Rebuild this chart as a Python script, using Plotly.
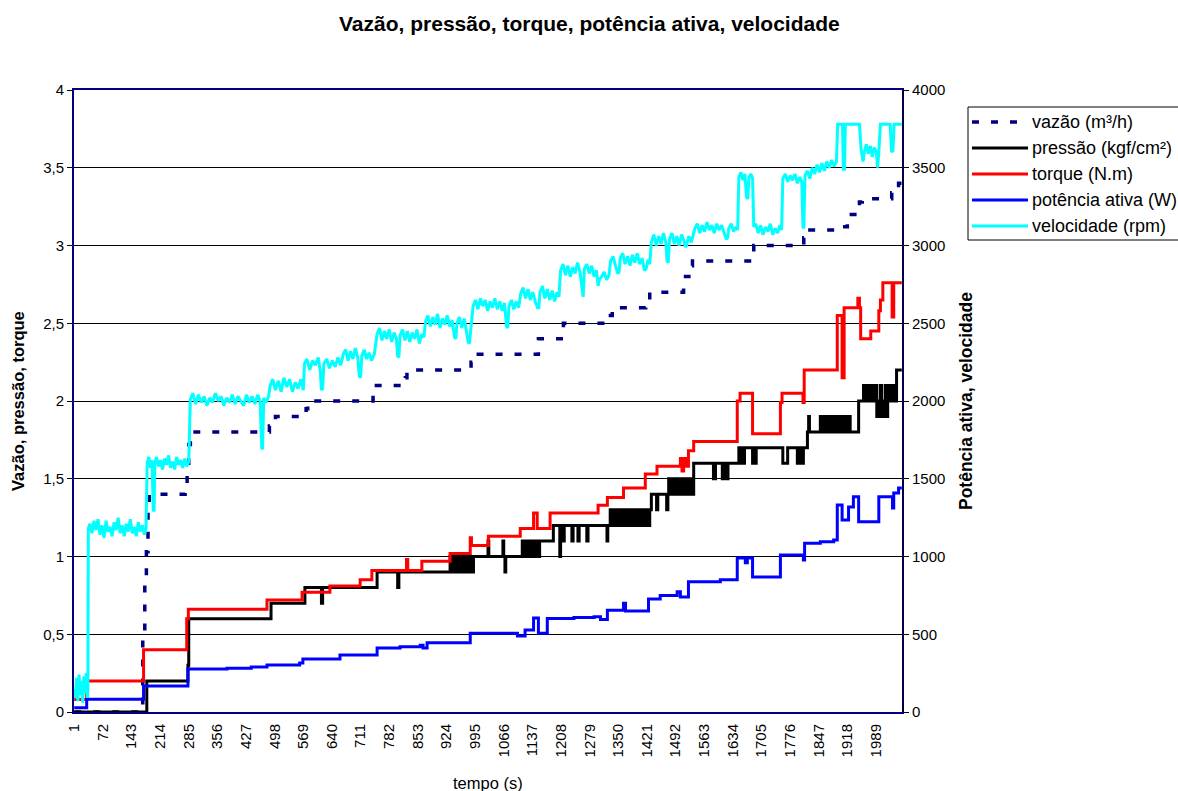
import plotly.graph_objects as go

FONT = "Arial, Liberation Sans, sans-serif"

# x-axis category labels (sample index, every 71 samples)
tick_labels = ["1", "72", "143", "214", "285", "356", "427", "498", "569", "640",
               "711", "782", "853", "924", "995", "1066", "1137", "1208", "1279",
               "1350", "1421", "1492", "1563", "1634", "1705", "1776", "1847",
               "1918", "1989"]
n_samples = 2053

# vazão (m³/h) - step changes (sample, value)
vazao_pts = [(1, 0.0), (166, 0.0), (171, 0.5), (176, 0.85), (180, 1.03), (184, 1.3),
             (187, 1.4), (276, 1.45), (281, 1.6), (285, 1.72), (289, 1.8),
             (485, 1.84), (492, 1.87), (500, 1.9), (576, 1.95), (580, 2.0),
             (742, 2.1), (822, 2.15), (826, 2.2), (985, 2.25), (990, 2.3),
             (1152, 2.4), (1214, 2.5), (1325, 2.55), (1335, 2.6), (1418, 2.63),
             (1428, 2.7), (1512, 2.8), (1525, 2.87), (1534, 2.9), (1686, 3.0),
             (1810, 3.05), (1814, 3.1), (1905, 3.12), (1918, 3.2), (1948, 3.28),
             (1955, 3.3), (2028, 3.34), (2045, 3.4), (2053, 3.4)]

# pressão (kgf/cm²) - step changes (sample, value)
pressao_pts = [(1, 0.0), (181, 0.2), (283, 0.3), (285, 0.6), (489, 0.7), (573, 0.8),
               (614, 0.7), (617, 0.8), (752, 0.9), (803, 0.8), (806, 0.9),
               (933, 1.0), (940, 0.9), (942, 1.0), (946, 0.9), (949, 1.0), (952, 0.9),
               (955, 1.0), (958, 0.9), (961, 1.0), (964, 0.9), (967, 1.0), (970, 0.9),
               (973, 1.0), (976, 0.9), (979, 1.0), (982, 0.9), (985, 1.0), (988, 0.9),
               (991, 1.0), (1027, 1.1), (1029, 1.0), (1064, 1.1), (1066, 1.0),
               (1069, 0.9), (1071, 1.0), (1112, 1.1), (1116, 1.0), (1119, 1.1),
               (1123, 1.0), (1126, 1.1), (1130, 1.0), (1133, 1.1), (1137, 1.0),
               (1140, 1.1), (1145, 1.0), (1148, 1.1), (1152, 1.0), (1155, 1.1),
               (1189, 1.2), (1205, 1.0), (1207, 1.2), (1213, 1.1), (1216, 1.2),
               (1235, 1.1), (1238, 1.2), (1250, 1.1), (1253, 1.2), (1272, 1.1),
               (1275, 1.2), (1322, 1.1), (1324, 1.2), (1330, 1.3), (1334, 1.2),
               (1337, 1.3), (1341, 1.2), (1344, 1.3), (1348, 1.2), (1351, 1.3),
               (1355, 1.2), (1358, 1.3), (1362, 1.2), (1365, 1.3), (1369, 1.2),
               (1372, 1.3), (1376, 1.2), (1379, 1.3), (1383, 1.2), (1386, 1.3),
               (1390, 1.2), (1393, 1.3), (1397, 1.2), (1400, 1.3), (1404, 1.2),
               (1407, 1.3), (1411, 1.2), (1414, 1.3), (1418, 1.2), (1421, 1.3),
               (1425, 1.2), (1428, 1.3), (1432, 1.4), (1445, 1.3), (1448, 1.4),
               (1470, 1.3), (1473, 1.4), (1475, 1.5), (1479, 1.4), (1482, 1.5),
               (1486, 1.4), (1489, 1.5), (1493, 1.4), (1496, 1.5), (1500, 1.4),
               (1503, 1.5), (1507, 1.4), (1510, 1.5), (1514, 1.4), (1517, 1.5),
               (1521, 1.4), (1524, 1.5), (1528, 1.4), (1531, 1.5), (1535, 1.4),
               (1537, 1.6), (1586, 1.5), (1591, 1.6), (1608, 1.5), (1612, 1.6),
               (1616, 1.5), (1622, 1.6), (1649, 1.7), (1653, 1.6), (1656, 1.7),
               (1660, 1.6), (1663, 1.7), (1683, 1.6), (1686, 1.7), (1689, 1.6),
               (1692, 1.7), (1758, 1.6), (1770, 1.7), (1794, 1.6), (1797, 1.7),
               (1800, 1.6), (1803, 1.7), (1806, 1.6), (1809, 1.7), (1819, 1.8),
               (1822, 1.9), (1824, 1.8), (1851, 1.9), (1855, 1.8), (1858, 1.9),
               (1862, 1.8), (1865, 1.9), (1869, 1.8), (1872, 1.9), (1876, 1.8),
               (1879, 1.9), (1883, 1.8), (1886, 1.9), (1890, 1.8), (1893, 1.9),
               (1897, 1.8), (1900, 1.9), (1904, 1.8), (1907, 1.9), (1911, 1.8),
               (1914, 1.9), (1918, 1.8), (1921, 1.9), (1925, 1.8), (1946, 2.0),
               (1958, 2.1), (1961, 2.0), (1964, 2.1), (1967, 2.0), (1970, 2.1),
               (1973, 2.0), (1976, 2.1), (1979, 2.0), (1982, 2.1), (1985, 2.0),
               (1988, 2.1), (1991, 1.9), (1994, 2.0), (1997, 1.9), (2000, 2.1),
               (2003, 1.9), (2006, 2.0), (2009, 1.9), (2012, 2.1), (2015, 1.9),
               (2018, 2.0), (2021, 2.1), (2024, 2.0), (2027, 2.1), (2030, 2.0),
               (2033, 2.1), (2036, 2.0), (2040, 2.2), (2053, 2.2)]

# torque (N.m) - step changes (sample, value)
torque_pts = [(1, 0.08), (32, 0.2), (173, 0.4), (280, 0.6), (284, 0.66), (479, 0.72),
              (566, 0.77), (635, 0.81), (710, 0.85), (739, 0.91), (825, 0.98),
              (828, 0.91), (863, 0.97), (933, 1.02), (983, 1.12), (986, 1.07),
              (1028, 1.13), (1107, 1.18), (1140, 1.28), (1149, 1.18), (1181, 1.28),
              (1300, 1.33), (1323, 1.38), (1363, 1.44), (1417, 1.53), (1446, 1.58),
              (1504, 1.63), (1508, 1.55), (1512, 1.63), (1517, 1.58), (1524, 1.68),
              (1537, 1.74), (1645, 2.0), (1652, 2.05), (1683, 1.79), (1752, 1.99),
              (1756, 2.05), (1808, 1.99), (1811, 2.2), (1893, 2.55), (1905, 2.15),
              (1910, 2.6), (1944, 2.66), (1948, 2.6), (1951, 2.4), (1976, 2.45),
              (1996, 2.58), (2000, 2.65), (2006, 2.76), (2029, 2.54), (2033, 2.76),
              (2053, 2.76)]

# potência ativa (W) - step changes (sample, value)
potencia_pts = [(1, 28), (32, 82), (173, 167), (283, 276), (380, 282), (440, 289),
                (479, 302), (560, 315), (568, 341), (660, 367), (752, 411), (809, 420),
                (859, 430), (866, 411), (876, 446), (983, 506), (1100, 489),
                (1119, 527), (1140, 604), (1152, 507), (1174, 602), (1240, 608),
                (1290, 613), (1306, 595), (1323, 655), (1363, 700), (1368, 650),
                (1425, 727), (1454, 750), (1496, 773), (1504, 740), (1524, 838),
                (1603, 850), (1645, 990), (1665, 960), (1670, 990), (1683, 868),
                (1752, 1010), (1809, 977), (1812, 1085), (1851, 1095), (1884, 1106),
                (1893, 1331), (1905, 1235), (1921, 1318), (1933, 1385), (1946, 1224),
                (1996, 1385), (2030, 1312), (2033, 1408), (2045, 1440), (2053, 1440)]

# velocidade (rpm) - sampled readings (sample, value)
velocidade_pts = [
    (1, 150), (4, 90), (7, 220), (10, 70), (13, 240), (16, 110), (19, 200), (22, 60),
    (25, 230), (28, 120), (31, 250), (34, 90), (35, 170),
    (36, 1180), (40, 1210), (45, 1150), (50, 1230), (55, 1170), (60, 1240), (65, 1140),
    (70, 1200), (75, 1120), (80, 1230), (85, 1160), (90, 1190), (95, 1130), (100, 1220),
    (105, 1170), (110, 1250), (115, 1150), (120, 1200), (125, 1130), (130, 1210),
    (135, 1160), (140, 1240), (145, 1150), (150, 1190), (155, 1130), (160, 1220),
    (165, 1160), (170, 1200), (175, 1140), (179, 1180),
    (182, 1600), (186, 1640), (190, 1570), (194, 1620), (197, 1300), (199, 1290),
    (201, 1600), (205, 1640), (210, 1580), (215, 1620), (220, 1560), (225, 1630),
    (230, 1590), (235, 1650), (240, 1570), (245, 1610), (250, 1560), (255, 1640),
    (260, 1590), (265, 1620), (270, 1570), (275, 1630), (280, 1580), (285, 1610),
    (289, 2010), (295, 2050), (302, 1980), (309, 2040), (316, 1990), (323, 2030),
    (330, 1970), (337, 2020), (344, 1990), (351, 2050), (358, 2000), (365, 2030),
    (372, 1970), (379, 2020), (386, 1990), (393, 2040), (400, 1980), (407, 2030),
    (414, 2000), (421, 1970), (428, 2040), (435, 1990), (442, 2030), (449, 1980),
    (456, 2040), (462, 2000), (466, 1700), (468, 1690), (471, 2020), (477, 1990),
    (483, 2030),
    (487, 2100), (493, 2140), (500, 2070), (507, 2130), (514, 2060), (521, 2150),
    (528, 2090), (535, 2140), (542, 2060), (549, 2120), (556, 2080), (563, 2140),
    (569, 2070),
    (572, 2240), (578, 2270), (585, 2200), (592, 2260), (599, 2230), (606, 2280),
    (611, 2200), (614, 2070), (617, 2080), (620, 2240), (627, 2270), (634, 2210),
    (641, 2260), (648, 2220), (655, 2280), (662, 2230),
    (668, 2300), (674, 2330), (680, 2260), (686, 2320), (692, 2270), (698, 2340),
    (704, 2280), (708, 2160), (711, 2150), (714, 2290), (720, 2330), (726, 2270),
    (732, 2310), (738, 2260), (745, 2300),
    (752, 2430), (758, 2470), (764, 2390), (770, 2450), (776, 2400), (782, 2460),
    (788, 2380), (794, 2440), (800, 2400), (803, 2290), (806, 2280), (809, 2420),
    (815, 2460), (821, 2390), (827, 2450), (833, 2380), (839, 2440), (845, 2400),
    (851, 2460), (857, 2370), (863, 2430), (868, 2410),
    (872, 2510), (878, 2550), (884, 2480), (890, 2540), (896, 2490), (902, 2560),
    (908, 2470), (914, 2530), (920, 2490), (926, 2550), (932, 2480), (938, 2520),
    (944, 2410), (947, 2400), (950, 2500), (956, 2540), (962, 2470), (968, 2530),
    (974, 2450), (978, 2380), (981, 2370), (985, 2480),
    (990, 2610), (996, 2650), (1002, 2590), (1008, 2660), (1014, 2610), (1020, 2650),
    (1026, 2580), (1032, 2640), (1038, 2600), (1044, 2660), (1050, 2590), (1056, 2640),
    (1062, 2580), (1068, 2630), (1073, 2480), (1076, 2470), (1079, 2610), (1085, 2650),
    (1091, 2590), (1097, 2640), (1103, 2600),
    (1108, 2690), (1114, 2730), (1120, 2660), (1126, 2720), (1132, 2650), (1138, 2700),
    (1144, 2640), (1150, 2600), (1153, 2600), (1156, 2700), (1162, 2740), (1168, 2660),
    (1174, 2720), (1180, 2650), (1186, 2710), (1192, 2640), (1198, 2700), (1203, 2670),
    (1207, 2840), (1213, 2880), (1219, 2810), (1225, 2870), (1231, 2800), (1237, 2860),
    (1243, 2820), (1249, 2890), (1255, 2830), (1260, 2700), (1263, 2670), (1266, 2850),
    (1272, 2880), (1278, 2820), (1284, 2870), (1290, 2800), (1296, 2840), (1300, 2740),
    (1303, 2780),
    (1309, 2800), (1315, 2830), (1321, 2780), (1327, 2810), (1331, 2900), (1337, 2930),
    (1343, 2870), (1349, 2820), (1352, 2830), (1355, 2920), (1361, 2950), (1367, 2880),
    (1373, 2930), (1379, 2870), (1385, 2940), (1391, 2890), (1397, 2950), (1403, 2880),
    (1409, 2920), (1415, 2840), (1419, 2850), (1424, 2910), (1428, 2880),
    (1432, 3020), (1438, 3070), (1444, 3000), (1450, 3060), (1456, 3010), (1462, 3080),
    (1468, 3020), (1471, 2900), (1474, 2890), (1477, 3040), (1483, 3080), (1489, 3010),
    (1495, 3060), (1501, 3000), (1507, 3070), (1513, 3030), (1516, 2990), (1519, 3000),
    (1525, 3060), (1531, 3020), (1535, 3070),
    (1540, 3110), (1546, 3140), (1552, 3080), (1558, 3130), (1564, 3090), (1570, 3150),
    (1576, 3100), (1582, 3130), (1588, 3080), (1594, 3140), (1600, 3100), (1606, 3130),
    (1612, 3090), (1618, 3040), (1621, 3050), (1624, 3110), (1630, 3140), (1636, 3090),
    (1642, 3120), (1646, 3100),
    (1649, 3440), (1654, 3470), (1659, 3420), (1664, 3460), (1668, 3310), (1671, 3300),
    (1674, 3440), (1679, 3460), (1683, 3430),
    (1686, 3120), (1691, 3140), (1697, 3080), (1703, 3130), (1709, 3070), (1715, 3120),
    (1721, 3090), (1727, 3140), (1733, 3070), (1739, 3110), (1745, 3080), (1751, 3130),
    (1755, 3100),
    (1758, 3430), (1764, 3460), (1770, 3410), (1776, 3450), (1782, 3420), (1788, 3460),
    (1794, 3400), (1800, 3440), (1805, 3410), (1808, 3120), (1810, 3110),
    (1813, 3450), (1819, 3480), (1825, 3430), (1831, 3500), (1837, 3460), (1843, 3520),
    (1849, 3470), (1855, 3530), (1861, 3480), (1867, 3540), (1873, 3500), (1879, 3550),
    (1885, 3510), (1891, 3540),
    (1894, 3780), (1900, 3780), (1906, 3780), (1908, 3490), (1911, 3490), (1913, 3780),
    (1919, 3780), (1925, 3780), (1932, 3780), (1940, 3780), (1948, 3780),
    (1952, 3620), (1957, 3540), (1960, 3600), (1965, 3650), (1970, 3590), (1975, 3640),
    (1980, 3570), (1985, 3630), (1990, 3600), (1993, 3500), (1996, 3600),
    (2000, 3780), (2008, 3780), (2016, 3780), (2024, 3780), (2028, 3600), (2031, 3610),
    (2034, 3780), (2042, 3780), (2050, 3780), (2053, 3780)]


def unzip(pts):
    return [p[0] for p in pts], [p[1] for p in pts]


series = [
    # name, points, colour, width, dash, shape, axis
    ("vazão (m³/h)", vazao_pts, "#000080", 3.5, "7px,12px", "hv", "y"),
    ("pressão (kgf/cm²)", pressao_pts, "#000000", 3, "solid", "hv", "y"),
    ("torque (N.m)", torque_pts, "#FF0000", 3, "solid", "hv", "y"),
    ("potência ativa (W)", potencia_pts, "#0000FF", 3, "solid", "hv", "y2"),
    ("velocidade (rpm)", velocidade_pts, "#00FFFF", 3, "solid", "linear", "y2"),
]

fig = go.Figure()
for name, pts, color, width, dash, shape, axis in series:
    xs, ys = unzip(pts)
    fig.add_trace(go.Scatter(
        x=xs, y=ys, mode="lines", name=name, yaxis=axis,
        line=dict(color=color, width=width, dash=dash, shape=shape),
    ))

tick_pos = [int(t) for t in tick_labels]

fig.update_layout(
    width=1178, height=791,
    margin=dict(l=74, r=276, t=90, b=79),
    paper_bgcolor="white", plot_bgcolor="white",
    showlegend=False,
    separators=",.",
    font=dict(family=FONT, size=15, color="black"),
    xaxis=dict(
        range=[0.5, n_samples + 0.5], tickvals=tick_pos, ticktext=tick_labels,
        tickangle=-90, showgrid=False, zeroline=False, showline=True,
        linecolor="#000080", linewidth=2, mirror=True, ticks="",
        ticklabelstandoff=4, tickfont=dict(family=FONT, size=15),
    ),
    yaxis=dict(
        range=[0, 4], dtick=0.5, tick0=0, showgrid=True, gridcolor="#000000",
        gridwidth=1, zeroline=False, showline=True, linecolor="#000080",
        linewidth=2, ticks="outside", ticklen=5, tickcolor="#000000",
        tickfont=dict(family=FONT, size=15),
    ),
    yaxis2=dict(
        range=[0, 4000], dtick=500, tick0=0, overlaying="y", side="right",
        showgrid=False, zeroline=False, showline=True, linecolor="#000040",
        linewidth=2, ticks="outside", ticklen=5, tickcolor="#000000",
        tickfont=dict(family=FONT, size=15),
    ),
)

# titles
PW, PH, L, T = 828.0, 622.0, 74.0, 90.0


def px(xp):
    return (xp - L) / PW


def py(yp):
    return (T + PH - yp) / PH


annotations = [
    dict(text="<b>Vazão, pressão, torque, potência ativa, velocidade</b>",
         x=px(589), y=py(23), font=dict(size=21)),
    dict(text="<b>Vazão, pressão, torque</b>", x=px(18), y=0.5, textangle=-90,
         font=dict(size=16.5)),
    dict(text="<b>Potência ativa, velocidade</b>", x=px(966), y=0.5, textangle=-90,
         font=dict(size=17.5)),
    dict(text="tempo (s)", x=0.5, y=py(783), font=dict(size=16.5)),
]

# legend box drawn alongside the plot
shapes = [dict(type="rect", xref="paper", yref="paper", x0=px(968), x1=px(1200),
               y0=py(240), y1=py(107), line=dict(color="black", width=1),
               fillcolor="white", layer="below")]
row_y = [122, 148, 174, 200, 226]
for (name, pts, color, width, dash, shape, axis), ry in zip(series, row_y):
    shapes.append(dict(type="line", xref="paper", yref="paper",
                       x0=px(972), x1=px(1028), y0=py(ry), y1=py(ry),
                       line=dict(color=color, width=width, dash=dash)))
    annotations.append(dict(text=name, x=px(1030), y=py(ry), xanchor="left",
                            font=dict(size=18)))

for a in annotations:
    a.setdefault("xref", "paper")
    a.setdefault("yref", "paper")
    a.setdefault("showarrow", False)
    a.setdefault("xanchor", "center")
    a.setdefault("yanchor", "middle")
    a["font"] = dict(family=FONT, color="black", **a["font"])

fig.update_layout(annotations=annotations, shapes=shapes)

fig.write_html("out.html")
